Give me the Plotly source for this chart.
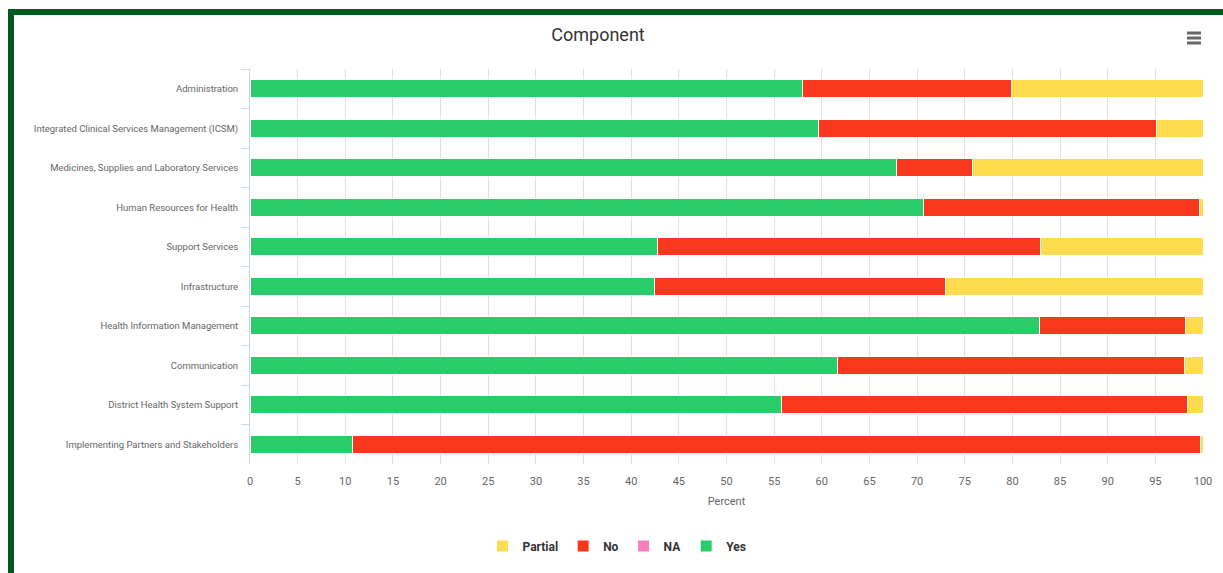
import plotly.graph_objects as go

# data (percent of each component)
components = [
    "Administration",
    "Integrated Clinical Services Management (ICSM)",
    "Medicines, Supplies and Laboratory Services",
    "Human Resources for Health",
    "Support Services",
    "Infrastructure",
    "Health Information Management",
    "Communication",
    "District Health System Support",
    "Implementing Partners and Stakeholders",
]
yes = [58.0, 59.7, 67.8, 70.7, 42.8, 42.4, 82.8, 61.6, 55.8, 10.8]
na = [0, 0, 0, 0, 0, 0, 0, 0, 0, 0]
no = [21.9, 35.4, 8.0, 28.9, 40.2, 30.6, 15.4, 36.5, 42.6, 88.9]
partial = [20.1, 4.9, 24.2, 0.4, 17.0, 27.0, 1.8, 1.9, 1.6, 0.3]

W, H = 1223, 573
L, R, T, B = 250, 1203, 69, 464


def px(x):
    return (x - L) / (R - L)


def py(y):
    return (B - y) / (B - T)


fig = go.Figure()
series = [("Yes", yes, "#2acb69"), ("NA", na, "#f77fb9"), ("No", no, "#f8371c"), ("Partial", partial, "#ffdb4f")]
for name, vals, col in series:
    fig.add_trace(go.Bar(y=components, x=vals, name=name, orientation="h", marker_color=col,
                         marker_line=dict(color="white", width=1), hoverinfo="x+y+name"))

shapes = [
    # green frame around the chart container
    dict(type="line", xref="paper", yref="paper", x0=px(11), x1=px(1300), y0=py(12), y1=py(12),
         line=dict(color="#005a1f", width=6)),
    dict(type="line", xref="paper", yref="paper", x0=px(11), x1=px(11), y0=py(9), y1=py(700),
         line=dict(color="#005a1f", width=6)),
]
# menu icon
for yy in (33, 38, 43):
    shapes.append(dict(type="line", xref="paper", yref="paper", x0=px(1187), x1=px(1201), y0=py(yy), y1=py(yy),
                       line=dict(color="#666666", width=3)))

fig.update_layout(
    width=W, height=H,
    barmode="stack", bargap=0.54,
    plot_bgcolor="white", paper_bgcolor="white",
    margin=dict(l=L, r=W - R, t=T, b=H - B),
    font=dict(family="Roboto, sans-serif", size=11, color="#666666"),
    title=dict(text="Component", x=598 / W, xref="container", xanchor="center",
               y=1 - 35 / H, yanchor="middle", font=dict(size=18, color="#333333")),
    legend=dict(orientation="h", traceorder="reversed", x=px(617), xanchor="center", y=py(546), yanchor="middle",
                font=dict(size=12, color="#333333", weight="bold"), itemwidth=30),
    shapes=shapes,
)
fig.update_xaxes(range=[0, 100], dtick=5, tick0=0, showgrid=True, gridcolor="#e0e0e0", gridwidth=1,
                 zeroline=False, showline=False, ticks="", ticklabelstandoff=9,
                 title=dict(text="Percent", standoff=10, font=dict(size=11, color="#666666")), fixedrange=True)
fig.update_yaxes(autorange="reversed", showline=True, linecolor="#ccd6eb", linewidth=1, ticks="outside",
                 tickson="boundaries", ticklen=8, tickcolor="#ccd6eb", showgrid=False, fixedrange=True,
                 tickfont=dict(size=9.5), ticklabelstandoff=9)

fig.write_html("out.html", config={"displayModeBar": False},
               post_script="document.body.style.margin='0';document.body.style.overflow='hidden';")
